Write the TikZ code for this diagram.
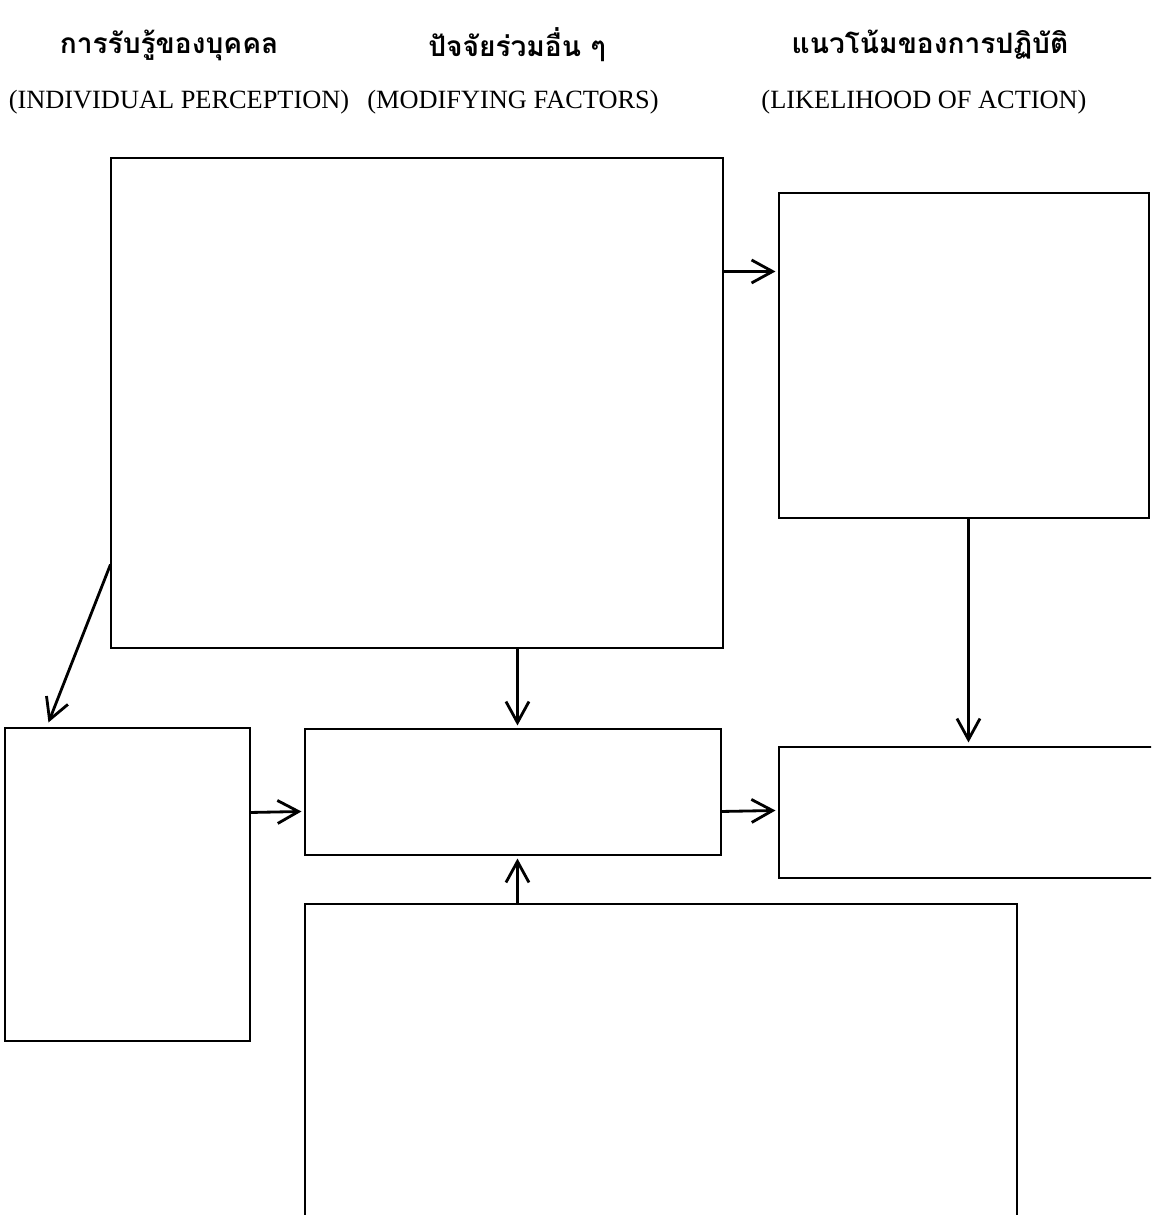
\documentclass[tikz,border=0pt]{standalone}
\usepackage{fontspec}
\setmainfont{Liberation Serif}
\newfontfamily\thaifont[Script=Thai]{Loma}
\usetikzlibrary{arrows.meta,calc}

\begin{document}
\begin{tikzpicture}[
  box/.style={rectangle, draw, semithick, inner sep=0pt},
  link/.style={-{Straight Barb[length=4.2mm, width=4.6mm]}, line width=1.6pt},
  thead/.style={font=\thaifont\bfseries\fontsize{16}{19}\selectfont},
  ehead/.style={font=\fontsize{15}{18}\selectfont}]
\useasboundingbox (0,0) rectangle (23.02,-24.3);
\clip (0,0) rectangle (23.02,-24.3);

% headings
\node[thead] (t1) at (3.38,-0.9) {การรับรู้ของบุคคล};
\node[thead] (t2) at (10.34,-0.9) {ปัจจัยร่วมอื่น ๆ};
\node[thead] (t3) at (18.6,-0.9) {แนวโน้มของการปฏิบัติ};
\node[ehead] (e1) at (3.58,-2.04) {(INDIVIDUAL PERCEPTION)};
\node[ehead] (e2) at (10.26,-2.04) {(MODIFYING FACTORS)};
\node[ehead] (e3) at (18.48,-2.04) {(LIKELIHOOD OF ACTION)};

% boxes
\node[box, minimum width=12.24cm, minimum height=9.8cm] (perc) at (8.34,-8.06) {};
\node[box, minimum width=7.4cm, minimum height=6.5cm] (benef) at (19.28,-7.11) {};
\node[box, minimum width=4.9cm, minimum height=6.26cm] (susc) at (2.55,-17.69) {};
\node[box, minimum width=8.32cm, minimum height=2.52cm] (threat) at (10.26,-15.84) {};
\node[box, minimum width=7.7cm, minimum height=2.62cm] (action) at (19.43,-16.25) {};
\node[box, minimum width=14.24cm, minimum height=6.72cm] (cues) at (13.22,-21.44) {};

% arrows
\draw[link] ($(perc.north east)+(0,-2.28)$) -- ($(benef.north west)+(-0.06,-1.58)$);
\draw[link] ($(perc.north west)+(0,-8.14)$) -- ($(susc.north west)+(0.88,0.1)$);
\draw[link] ($(perc.south west)+(8.14,0)$) -- ($(threat.north west)+(4.26,0.06)$);
\draw[link] ($(benef.south west)+(3.8,0)$) -- ($(action.north west)+(3.8,0.08)$);
\draw[link] ($(susc.north east)+(0,-1.7)$) -- ($(threat.north west)+(-0.06,-1.66)$);
\draw[link] ($(threat.north east)+(0,-1.66)$) -- ($(action.north west)+(-0.06,-1.28)$);
\draw[link] ($(cues.north west)+(4.26,0)$) -- ($(threat.south west)+(4.26,-0.06)$);

\end{tikzpicture}
\end{document}
